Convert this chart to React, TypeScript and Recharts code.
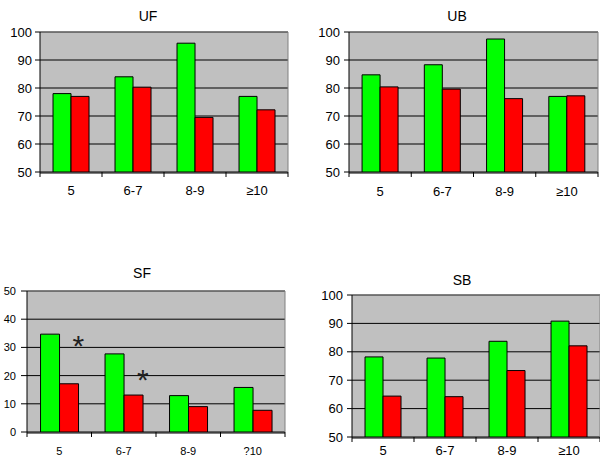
import React from "react";
import { BarChart, Bar, XAxis, YAxis, CartesianGrid, ReferenceLine, ReferenceDot } from "recharts";

const categoriesU = ["5", "6-7", "8-9", "≥10"];
const categoriesSF = ["5", "6-7", "8-9", "?10"];

const ufGreen = [78, 84, 96, 77];
const ufRed = [77, 80.3, 69.5, 72.2];
const ubGreen = [84.7, 88.3, 97.5, 77];
const ubRed = [80.4, 79.6, 76.2, 77.2];
const sfGreen = [34.7, 27.7, 12.9, 15.8];
const sfRed = [17.1, 13.1, 9.0, 7.7];
const sbGreen = [78.2, 77.8, 83.7, 90.8];
const sbRed = [64.4, 64.2, 73.4, 82.1];

const yTicksHigh = [50, 60, 70, 80, 90, 100];
const yTicksLow = [0, 10, 20, 30, 40, 50];
const boundaryTicks = [0, 1, 2, 3, 4];

const sfStars = [
  { cat: "5", y: 33 },
  { cat: "6-7", y: 21 },
];

const FONT = "'Liberation Sans', Arial, sans-serif";

const Asterisk = (props: any) => (
  <text
    x={props.cx + 19}
    y={props.cy + 17}
    textAnchor="middle"
    fontSize={30}
    fontFamily={FONT}
    fill="#222"
  >
    *
  </text>
);

const NoLabel = () => <g />;

type PanelProps = {
  left: number;
  top: number;
  width: number;
  height: number;
  title: string;
  titleX: number;
  titleBaseline: number;
  categories: string[];
  green: number[];
  red: number[];
  domain: [number, number];
  yTicks: number[];
  margin: { top: number; right: number; left: number; bottom: number };
  yWidth: number;
  xHeight: number;
  xFont: number;
  yFont: number;
  yTickSize: number;
  yTickMargin: number;
  xTickMargin: number;
  stars?: { cat: string; y: number }[];
};

function Panel(p: PanelProps) {
  const data = p.categories.map((c, i) => ({ cat: c, pos: i + 0.5, g: p.green[i], r: p.red[i] }));
  return (
    <div style={{ position: "absolute", left: p.left, top: p.top, width: p.width, height: p.height }}>
      <BarChart
        width={p.width}
        height={p.height}
        data={data}
        margin={p.margin}
        barCategoryGap="21%"
        barGap={0}
        style={{ fontFamily: FONT }}
      >
        <CartesianGrid vertical={false} xAxisId="c" stroke="#000" fill="#C0C0C0" fillOpacity={1} />
        <XAxis
          xAxisId={0}
          dataKey="pos"
          type="number"
          domain={[0, 4]}
          ticks={boundaryTicks}
          tick={NoLabel}
          axisLine={false}
          tickLine={{ stroke: "#000" }}
          tickSize={5}
          height={1}
          allowDataOverflow
        />
        <XAxis
          xAxisId="c"
          dataKey="cat"
          tickLine={false}
          axisLine={{ stroke: "#000" }}
          tickSize={0}
          tickMargin={p.xTickMargin}
          height={p.xHeight - 1}
          tick={{ fill: "#000", fontSize: p.xFont, fontFamily: FONT }}
          interval={0}
        />
        <YAxis
          domain={p.domain}
          ticks={p.yTicks}
          width={p.yWidth}
          tickSize={p.yTickSize}
          tickMargin={p.yTickMargin}
          axisLine={{ stroke: "#000" }}
          tickLine={{ stroke: "#000" }}
          tick={{ fill: "#000", fontSize: p.yFont, fontFamily: FONT }}
          interval={0}
          allowDataOverflow
        />
        <YAxis
          yAxisId="right"
          orientation="right"
          width={1}
          domain={p.domain}
          tick={false}
          tickLine={false}
          axisLine={{ stroke: "#808080" }}
        />
        <ReferenceLine y={p.domain[1]} xAxisId="c" stroke="#808080" />
        <Bar xAxisId="c" dataKey="g" fill="#00FF00" stroke="#000" strokeWidth={1} isAnimationActive={false} />
        <Bar xAxisId="c" dataKey="r" fill="#FF0000" stroke="#000" strokeWidth={1} isAnimationActive={false} />
        {(p.stars || []).map((s) => (
          <ReferenceDot key={s.cat} xAxisId="c" x={s.cat} y={s.y} r={0} shape={Asterisk} />
        ))}
      </BarChart>
      <div
        style={{
          position: "absolute",
          left: p.titleX - p.left - 50,
          top: p.titleBaseline - p.top - 12,
          width: 100,
          textAlign: "center",
          fontFamily: FONT,
          fontSize: 14,
          lineHeight: "14px",
          color: "#000",
        }}
      >
        {p.title}
      </div>
    </div>
  );
}

export default function App() {
  return (
    <div style={{ position: "absolute", left: 0, top: 0, width: 600, height: 462, background: "#fff" }}>
      <Panel
        left={0}
        top={0}
        width={300}
        height={200}
        title="UF"
        titleX={148}
        titleBaseline={21}
        categories={categoriesU}
        green={ufGreen}
        red={ufRed}
        domain={[50, 100]}
        yTicks={yTicksHigh}
        margin={{ top: 32, right: 11, left: 0, bottom: 0 }}
        yWidth={40}
        xHeight={28}
        xFont={13}
        yFont={13}
        yTickSize={5}
        yTickMargin={3}
        xTickMargin={13}
      />
      <Panel
        left={300}
        top={0}
        width={300}
        height={200}
        title="UB"
        titleX={457}
        titleBaseline={21}
        categories={categoriesU}
        green={ubGreen}
        red={ubRed}
        domain={[50, 100]}
        yTicks={yTicksHigh}
        margin={{ top: 32, right: 1, left: 0, bottom: 0 }}
        yWidth={49}
        xHeight={28}
        xFont={13}
        yFont={13}
        yTickSize={5}
        yTickMargin={4}
        xTickMargin={14}
      />
      <Panel
        left={0}
        top={250}
        width={300}
        height={212}
        title="SF"
        titleX={142}
        titleBaseline={278}
        categories={categoriesSF}
        green={sfGreen}
        red={sfRed}
        domain={[0, 50]}
        yTicks={yTicksLow}
        margin={{ top: 41, right: 14, left: 0, bottom: 0 }}
        yWidth={27}
        xHeight={30}
        xFont={11}
        yFont={11}
        yTickSize={6}
        yTickMargin={5}
        xTickMargin={14}
        stars={sfStars}
      />
      <Panel
        left={300}
        top={260}
        width={300}
        height={202}
        title="SB"
        titleX={462}
        titleBaseline={285}
        categories={categoriesU}
        green={sbGreen}
        red={sbRed}
        domain={[50, 100]}
        yTicks={yTicksHigh}
        margin={{ top: 35, right: -1, left: 0, bottom: 0 }}
        yWidth={52}
        xHeight={25}
        xFont={13}
        yFont={13}
        yTickSize={5}
        yTickMargin={4}
        xTickMargin={8}
      />
    </div>
  );
}
